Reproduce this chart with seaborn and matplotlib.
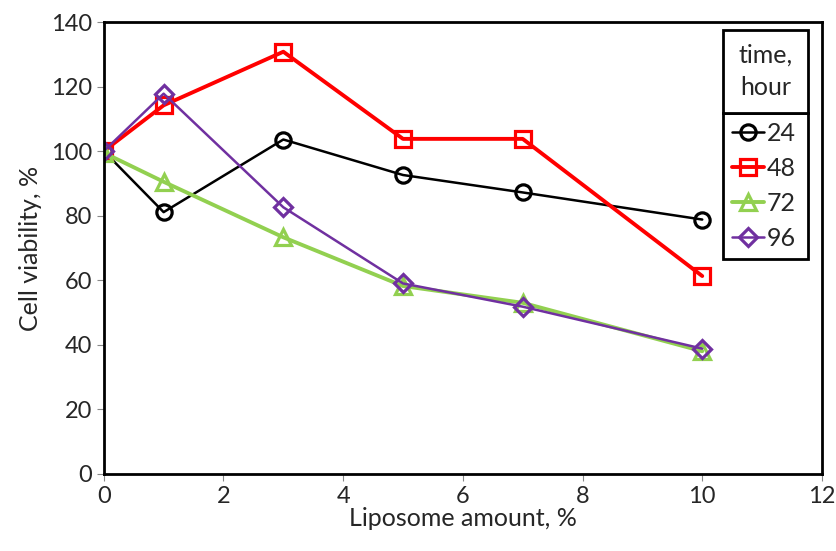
import numpy as np
import pandas as pd
import matplotlib
matplotlib.use("Agg")
import matplotlib.pyplot as plt
from matplotlib.patches import Rectangle
import seaborn as sns

# data
liposome = [0, 1, 3, 5, 7, 10]
via_24 = [100, 81.1, 103.6, 92.6, 87.2, 78.8]
via_48 = [100, 114.2, 130.8, 103.8, 103.8, 61.3]
via_72 = [99.5, 90.5, 73.3, 58.2, 53.0, 38.0]
via_96 = [100, 117.8, 82.6, 59.0, 51.8, 38.8]
hours = ["24", "48", "72", "96"]

df = pd.DataFrame({
    "amount": liposome * 4,
    "viability": via_24 + via_48 + via_72 + via_96,
    "time": np.repeat(hours, len(liposome)),
})

styles = {
    "24": dict(color="black", marker="o", lw=1.8),
    "48": dict(color="#FF0000", marker="s", lw=2.8),
    "72": dict(color="#92D050", marker="^", lw=2.8),
    "96": dict(color="#7030A0", marker="D", lw=1.8),
}

sns.set_style("ticks")
plt.rcParams["font.family"] = ["Lato", "DejaVu Sans"]

fig = plt.figure(figsize=(8.37, 5.51), dpi=100)
ax = fig.add_axes([0.124, 0.14, 0.858, 0.82])

for h in hours:
    st = styles[h]
    ms = 11 if st["marker"] != "D" else 9
    sns.lineplot(data=df[df["time"] == h], x="amount", y="viability", ax=ax,
                 color=st["color"], linewidth=st["lw"], marker=st["marker"],
                 markersize=ms, markerfacecolor="none", markeredgecolor=st["color"],
                 markeredgewidth=2.3, label=h)

ax.set_xlim(0, 12)
ax.set_ylim(0, 140)
ax.set_xticks(range(0, 13, 2))
ax.set_yticks(range(0, 141, 20))
ax.tick_params(labelsize=17, direction="out", length=5, color="#888888")
for s in ax.spines.values():
    s.set_visible(True)
    s.set_linewidth(2)
    s.set_color("black")
ax.set_xlabel("Liposome amount, %", fontsize=18, labelpad=0)
ax.set_ylabel("Cell viability, %", fontsize=18, labelpad=6)

# legend box: x 0.862..0.981, top at 0.798 (axes fraction)
leg = ax.legend(loc="upper left", bbox_to_anchor=(0.862, 0.798, 0.119, 0.0),
                mode="expand", fontsize=18, frameon=True, fancybox=False,
                edgecolor="black", framealpha=1,
                handlelength=1.3, handletextpad=0.1, borderpad=0.35,
                labelspacing=0.48, borderaxespad=0)
leg.get_frame().set_linewidth(2)

# title box sitting on top of the legend
ax.add_patch(Rectangle((0.862, 0.798), 0.119, 0.184, transform=ax.transAxes,
                       facecolor="white", edgecolor="black", linewidth=2,
                       zorder=6, clip_on=False))
ax.text(0.9215, 0.89, "time,\nhour", transform=ax.transAxes, ha="center",
        va="center", fontsize=18, linespacing=1.5, zorder=7)

fig.savefig("out.png", dpi=100)
